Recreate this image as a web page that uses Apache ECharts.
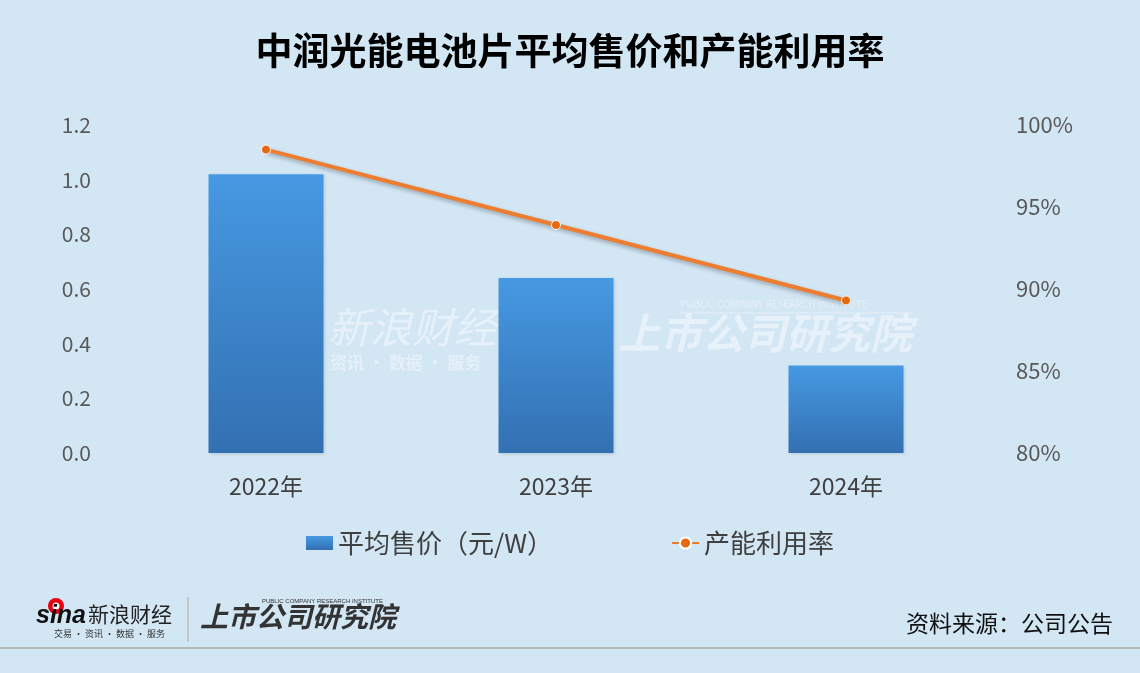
<!DOCTYPE html>
<html><head><meta charset="utf-8">
<script src="https://cdn.jsdelivr.net/npm/echarts@6/dist/echarts.min.js"></script>
<style>html,body{margin:0;padding:0;background:#d2e6f4}#c{width:1140px;height:673px}</style>
</head><body><div id="c"></div>
<script>
const categories = ['2022年', '2023年', '2024年'];
const priceValues = [1.02, 0.64, 0.32];
const utilValues = [98.5, 93.9, 89.3];
const leftTicks = ['0.0','0.2','0.4','0.6','0.8','1.0','1.2'];
const rightTicks = ['80%','85%','90%','95%','100%'];

const chart = echarts.init(document.getElementById('c'));
const font = '"Noto Sans CJK SC", "Noto Sans", sans-serif';
chart.setOption({
  backgroundColor: '#d2e6f4',
  textStyle: { fontFamily: font },
  title: {
    text: '中润光能电池片平均售价和产能利用率',
    left: 'center', top: 27,
    textStyle: { fontSize: 37, fontWeight: 'bold', color: '#000', fontFamily: font }
  },
  graphic: [
    { type: 'text', z: -10, left: 328, top: 306, style: { text: '新浪财经', font: 'italic 42px ' + font, fill: 'rgba(255,255,255,0.45)' } },
    { type: 'text', z: -10, left: 330, top: 354, style: { text: '资讯 · 数据 · 服务', font: 'bold 17px ' + font, fill: 'rgba(255,255,255,0.42)' } },
    { type: 'text', z: -10, left: 618, top: 312, style: { text: '上市公司研究院', font: 'italic bold 42px ' + font, fill: 'rgba(255,255,255,0.45)' } },
    { type: 'text', z: -10, left: 680, top: 299, style: { text: 'PUBLIC COMPANY RESEARCH INSTITUTE', font: '10px ' + font, fill: 'rgba(255,255,255,0.42)' } },
    { type: 'line', z: -10, shape: { x1: 680, y1: 313, x2: 912, y2: 313 }, style: { stroke: 'rgba(255,255,255,0.45)', lineWidth: 1 } },
    // footer logos
    { type: 'circle', shape: { cx: 56, cy: 606, r: 8 }, style: { fill: '#e60012' } },
    { type: 'circle', shape: { cx: 56, cy: 606, r: 3.5 }, style: { fill: '#fff' } },
    { type: 'text', left: 36, top: 604, style: { text: 'sina', font: 'italic bold 25px Arial, sans-serif', fill: '#111' } },
    { type: 'text', left: 88, top: 604, style: { text: '新浪财经', font: '21px ' + font, fill: '#222' } },
    { type: 'text', left: 54, top: 629, style: { text: '交易 · 资讯 · 数据 · 服务', font: '9px ' + font, fill: '#333' } },
    { type: 'line', shape: { x1: 188, y1: 597, x2: 188, y2: 642 }, style: { stroke: '#aaa', lineWidth: 1 } },
    { type: 'text', left: 200, top: 602, style: { text: '上市公司研究院', font: 'italic bold 28px ' + font, fill: '#333' } },
    { type: 'text', left: 262, top: 598, style: { text: 'PUBLIC COMPANY RESEARCH INSTITUTE', font: '6px Arial, sans-serif', fill: '#333' } },
    { type: 'line', shape: { x1: 0, y1: 648, x2: 1140, y2: 648 }, style: { stroke: '#a8a8a8', lineWidth: 1.5 } },
    { type: 'text', right: 27, top: 612, style: { text: '资料来源：公司公告', font: '23px ' + font, fill: '#111' } }
  ],
  legend: {
    bottom: 112, left: 'center', itemGap: 118, itemWidth: 27, itemHeight: 14,
    textStyle: { fontSize: 26, color: '#404040', fontFamily: font },
    data: [
      { name: '平均售价（元/W）', icon: 'rect' },
      { name: '产能利用率' }
    ]
  },
  grid: { left: 121, right: 149, top: 125, bottom: 220 },
  xAxis: {
    type: 'category', data: categories,
    axisLine: { show: false }, axisTick: { show: false },
    axisLabel: { fontSize: 23, color: '#404040', margin: 22 }
  },
  yAxis: [
    { type: 'value', min: 0, max: 1.2, interval: 0.2,
      axisLabel: { fontSize: 21, color: '#595959', margin: 30, formatter: v => leftTicks[Math.round(v / 0.2)] },
      splitLine: { show: false }, axisLine: { show: false }, axisTick: { show: false } },
    { type: 'value', min: 80, max: 100, interval: 5,
      axisLabel: { fontSize: 22, color: '#595959', margin: 25, formatter: v => rightTicks[Math.round((v - 80) / 5)] },
      splitLine: { show: false }, axisLine: { show: false }, axisTick: { show: false } }
  ],
  series: [
    { name: '平均售价（元/W）', type: 'bar', data: priceValues, barWidth: 115, z: 2,
      itemStyle: { color: new echarts.graphic.LinearGradient(0, 0, 0, 1, [
        { offset: 0, color: '#4699e2' }, { offset: 1, color: '#3370b2' }]),
        shadowColor: 'rgba(0,0,0,0.15)', shadowBlur: 3, shadowOffsetX: 1, shadowOffsetY: 1 } },
    { name: '产能利用率', type: 'line', yAxisIndex: 1, data: utilValues, z: 3,
      symbol: 'circle', symbolSize: 9,
      lineStyle: { color: '#ed7d31', width: 4, shadowColor: 'rgba(0,0,0,0.3)', shadowBlur: 4, shadowOffsetY: 2 },
      itemStyle: { color: '#e8680f', borderColor: '#fff', borderWidth: 1 } }
  ]
});
</script></body></html>
